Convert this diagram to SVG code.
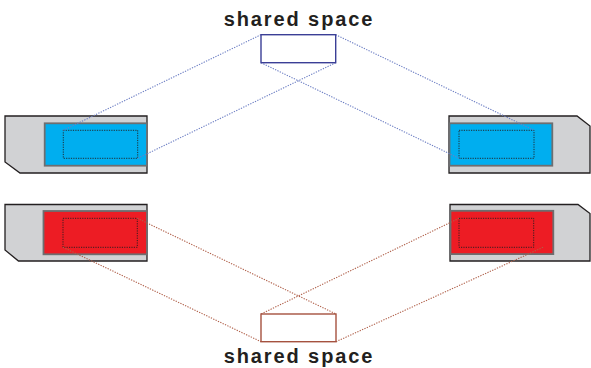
<svg xmlns="http://www.w3.org/2000/svg" width="591" height="368" viewBox="0 0 591 368">
  <style>
    .card { fill: #d1d2d4; stroke: #231f20; stroke-width: 1.3; }
    .blue { fill: #00aeef; stroke: #6d6e70; stroke-width: 1.8; }
    .red { fill: #ed1c24; stroke: #6d6e70; stroke-width: 1.8; }
    .area { fill: none; stroke: #231f20; stroke-width: 0.9; stroke-dasharray: 1.2 1.2; }
    .shared-top { fill: #ffffff; stroke: #3b3f96; stroke-width: 1.4; }
    .shared-bottom { fill: #ffffff; stroke: #a5523f; stroke-width: 1.4; }
    .link-blue { stroke: #6d7fc4; stroke-width: 1.1; stroke-dasharray: 1.3 1.3; fill: none; }
    .link-red { stroke: #b0604a; stroke-width: 1.1; stroke-dasharray: 1.3 1.3; fill: none; }
    .label { font-family: "Liberation Sans", Arial, sans-serif; font-weight: bold; font-size: 20px; letter-spacing: 1.9px; fill: #231f20; text-anchor: middle; }
  </style>

  <!-- cards -->
  <g id="card-top-left">
    <path class="card" d="M5,116 H147 V173 H20 L5,162 Z"/>
    <rect class="blue" x="44.7" y="123.3" width="102.3" height="42.4"/>
    <rect class="area" x="63.3" y="130.3" width="74.4" height="28"/>
  </g>
  <g id="card-top-right">
    <path class="card" d="M449,116 H577 L590,126 V173 H449 Z"/>
    <rect class="blue" x="449.5" y="123.3" width="102.8" height="42.4"/>
    <rect class="area" x="459" y="130.3" width="75" height="28"/>
  </g>
  <g id="card-bottom-left">
    <path class="card" d="M5,204.5 H147 V261 H18.5 L5,250 Z"/>
    <rect class="red" x="43.5" y="211" width="103.5" height="43.3"/>
    <rect class="area" x="63" y="218.3" width="74.3" height="29"/>
  </g>
  <g id="card-bottom-right">
    <path class="card" d="M450,204.5 H578 L590,213.5 V261 H450 Z"/>
    <rect class="red" x="450.5" y="210.8" width="102.8" height="43.3"/>
    <rect class="area" x="459" y="218.3" width="74.7" height="29"/>
  </g>

  <!-- connectors -->
  <g id="connectors">
    <line class="link-blue" x1="261" y1="34.7" x2="63.3" y2="130.3"/>
    <line class="link-blue" x1="335.7" y1="62.7" x2="137.7" y2="158.3"/>
    <line class="link-blue" x1="335.7" y1="34.7" x2="534" y2="130.3"/>
    <line class="link-blue" x1="261" y1="62.7" x2="459" y2="158.3"/>
    <line class="link-red" x1="137.3" y1="218.3" x2="336" y2="314"/>
    <line class="link-red" x1="63" y1="247.3" x2="261" y2="341.7"/>
    <line class="link-red" x1="459" y1="218.3" x2="261" y2="314"/>
    <line class="link-red" x1="543" y1="247.3" x2="336" y2="341.7"/>
  </g>

  <!-- shared spaces -->
  <g id="shared-top">
    <rect class="shared-top" x="261" y="34.7" width="74.7" height="28"/>
    <text class="label" x="299" y="26">shared space</text>
  </g>
  <g id="shared-bottom">
    <rect class="shared-bottom" x="261" y="314" width="75" height="27.7"/>
    <text class="label" x="299" y="363">shared space</text>
  </g>
</svg>
